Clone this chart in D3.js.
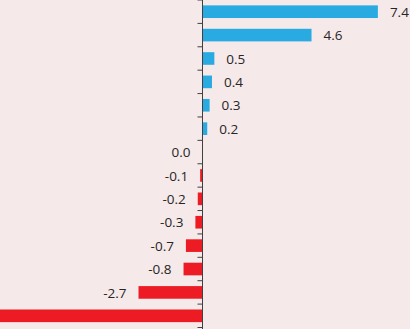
<!DOCTYPE html>
<html>
<head>
<meta charset="utf-8">
<script src="https://cdn.jsdelivr.net/npm/d3@7"></script>
<style>
  body { margin: 0; background: #f6e9e9; }
  svg { display: block; }
</style>
</head>
<body>
<script>
// values from top to bottom
var categories = ["c1", "c2", "c3", "c4", "c5", "c6", "c7", "c8", "c9", "c10", "c11", "c12", "c13", "c14"];
var values = [7.4, 4.6, 0.5, 0.4, 0.3, 0.2, 0.0, -0.1, -0.2, -0.3, -0.7, -0.8, -2.7, -9.8];
var labels = ["7.4", "4.6", "0.5", "0.4", "0.3", "0.2", "0.0", "-0.1", "-0.2", "-0.3", "-0.7", "-0.8", "-2.7", "-9.8"];

var width = 410, height = 329;
var zeroX = 202.5;
var pxPerUnit = 23.7;

var svg = d3.select("body").append("svg")
  .attr("width", width)
  .attr("height", height)

svg.append("rect")
  .attr("width", width)
  .attr("height", height)
  .style("fill", "#f6e9e9")

var x = d3.scaleLinear()
  .domain([0, 1])
  .range([zeroX, zeroX + pxPerUnit]);

var y = d3.scaleBand()
  .domain(categories)
  .range([0, 327.5])
  .paddingInner(0.46)
  .paddingOuter(0.23);

var rows = categories.map((c, i) => ({cat: c, v: values[i], label: labels[i]}));

svg.selectAll("rect.bar")
  .data(rows)
  .enter().append("rect")
  .attr("class", "bar")
  .attr("x", d => x(Math.min(0, d.v)))
  .attr("y", d => y(d.cat))
  .attr("width", d => Math.abs(x(d.v) - x(0)))
  .attr("height", y.bandwidth())
  .style("fill", d => d.v > 0 ? "#29abe2" : "#ed1c24")

// the label of the longest bar falls outside the plot, as in the original
var labelX = d => d.v > 0 ? x(d.v) + 12 : x(d.v) - 12;

svg.selectAll("text.lbl")
  .data(rows.filter(d => labelX(d) > 30))
  .enter().append("text")
  .attr("class", "lbl")
  .attr("x", labelX)
  .attr("y", d => y(d.cat) + y.bandwidth() / 2 + 1.5)
  .attr("dominant-baseline", "middle")
  .attr("text-anchor", d => d.v > 0 ? "start" : "end")
  .style("font-family", "'Open Sans', sans-serif")
  .style("font-size", "13.5px")
  .style("fill", "#262626")
  .text(d => d.label)

// category axis with ticks on band edges
var step = y.step();
var tickYs = d3.range(categories.length + 1).map(i => i * step);

var axis = svg.append("g");
axis.append("line")
  .attr("x1", zeroX).attr("x2", zeroX)
  .attr("y1", 0).attr("y2", height)
  .style("stroke", "#404040")
  .style("stroke-width", 1)
axis.selectAll("line.tick")
  .data(tickYs)
  .enter().append("line")
  .attr("class", "tick")
  .attr("x1", zeroX - 5).attr("x2", zeroX)
  .attr("y1", d => d).attr("y2", d => d)
  .style("stroke", "#404040")
  .style("stroke-width", 1)
</script>
</body>
</html>
